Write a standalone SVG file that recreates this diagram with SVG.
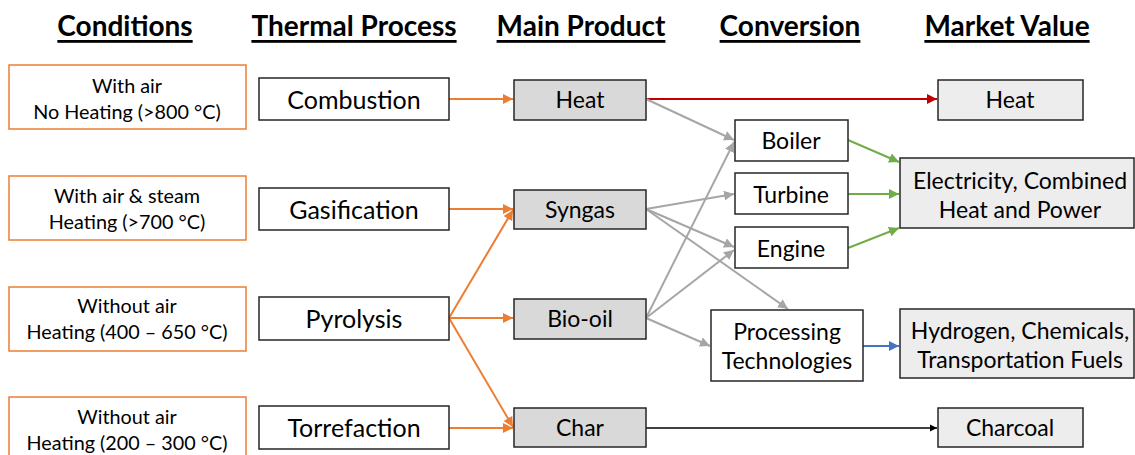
<svg xmlns="http://www.w3.org/2000/svg" width="1135" height="455" viewBox="0 0 1135 455">
<defs>
<style>
text{font-family:Lato,"Open Sans","Liberation Sans",sans-serif;fill:#000;text-anchor:middle;dominant-baseline:central}
.hdr{font-size:28px;font-weight:bold;text-decoration:underline}
.cond{fill:#fff;stroke:#ed7d31;stroke-width:1.5}
.proc{fill:#fff;stroke:#262626;stroke-width:1.5}
.prod{fill:#d9d9d9;stroke:#262626;stroke-width:1.5}
.mkt{fill:#ededed;stroke:#262626;stroke-width:1.5}
.ct{font-size:19.8px}
.pt{font-size:25px}
.mt{font-size:23px}
.or{stroke:#ed7d31;stroke-width:2;fill:none;marker-end:url(#aO)}
.gr{stroke:#a6a6a6;stroke-width:2;fill:none;marker-end:url(#aG)}
.gn{stroke:#70ad47;stroke-width:2;fill:none;marker-end:url(#aGn)}
</style>
<marker id="aO" viewBox="0 0 10 10" refX="10" refY="5" markerWidth="5" markerHeight="5" orient="auto" markerUnits="strokeWidth"><path d="M0,0L10,5L0,10z" fill="#ed7d31"/></marker>
<marker id="aG" viewBox="0 0 10 10" refX="10" refY="5" markerWidth="5" markerHeight="5" orient="auto" markerUnits="strokeWidth"><path d="M0,0L10,5L0,10z" fill="#a6a6a6"/></marker>
<marker id="aGn" viewBox="0 0 10 10" refX="10" refY="5" markerWidth="5" markerHeight="5" orient="auto" markerUnits="strokeWidth"><path d="M0,0L10,5L0,10z" fill="#70ad47"/></marker>
<marker id="aR" viewBox="0 0 10 10" refX="10" refY="5" markerWidth="5" markerHeight="5" orient="auto" markerUnits="strokeWidth"><path d="M0,0L10,5L0,10z" fill="#c00000"/></marker>
<marker id="aB" viewBox="0 0 10 10" refX="10" refY="5" markerWidth="5" markerHeight="5" orient="auto" markerUnits="strokeWidth"><path d="M0,0L10,5L0,10z" fill="#4472c4"/></marker>
<marker id="aK" viewBox="0 0 10 10" refX="10" refY="5" markerWidth="5" markerHeight="5" orient="auto" markerUnits="strokeWidth"><path d="M0,0L10,5L0,10z" fill="#000"/></marker>
</defs>
<rect width="1135" height="455" fill="#fff"/>
<g id="headers">
<text class="hdr" x="125" y="25">Conditions</text>
<text class="hdr" x="354" y="25">Thermal Process</text>
<text class="hdr" x="581" y="25">Main Product</text>
<text class="hdr" x="790" y="25">Conversion</text>
<text class="hdr" x="1007" y="25">Market Value</text>
</g>
<g id="connectors">
<line class="or" x1="449" y1="99" x2="513" y2="99"/>
<line class="or" x1="449" y1="209" x2="513" y2="209"/>
<line class="or" x1="449" y1="318" x2="513" y2="210"/>
<line class="or" x1="449" y1="318" x2="513" y2="318"/>
<line class="or" x1="449" y1="318" x2="513" y2="427"/>
<line class="or" x1="449" y1="428" x2="513" y2="428"/>
<line x1="646" y1="99" x2="937" y2="99" stroke="#c00000" stroke-width="2" marker-end="url(#aR)"/>
<line class="gr" x1="646" y1="99" x2="734" y2="140"/>
<line class="gr" x1="646" y1="209" x2="734" y2="194"/>
<line class="gr" x1="646" y1="209" x2="734" y2="247"/>
<line class="gr" x1="646" y1="209" x2="788" y2="309"/>
<line class="gr" x1="646" y1="318" x2="734" y2="142"/>
<line class="gr" x1="646" y1="318" x2="734" y2="250"/>
<line class="gr" x1="646" y1="318" x2="710" y2="346"/>
<line class="gn" x1="848" y1="140" x2="899" y2="162"/>
<line class="gn" x1="848" y1="194" x2="899" y2="194"/>
<line class="gn" x1="848" y1="248" x2="899" y2="228"/>
<line x1="863" y1="346" x2="899" y2="346" stroke="#4472c4" stroke-width="2" marker-end="url(#aB)"/>
<line x1="646" y1="428" x2="937" y2="428" stroke="#000" stroke-width="1.5" marker-end="url(#aK)"/>
</g>
<g id="cond1"><rect class="cond" x="9" y="65" width="237" height="64"/><text class="ct" x="127" y="85">With air</text><text class="ct" x="127" y="111">No Heating (&gt;800 °C)</text></g>
<g id="cond2"><rect class="cond" x="9" y="176" width="237" height="64"/><text class="ct" x="127" y="195">With air &amp; steam</text><text class="ct" x="127" y="221">Heating (&gt;700 °C)</text></g>
<g id="cond3"><rect class="cond" x="9" y="287" width="237" height="64"/><text class="ct" x="127" y="305">Without air</text><text class="ct" x="127" y="331">Heating (400 – 650 °C)</text></g>
<g id="cond4"><rect class="cond" x="9" y="397" width="237" height="64"/><text class="ct" x="127" y="416">Without air</text><text class="ct" x="127" y="442">Heating (200 – 300 °C)</text></g>
<g id="combustion"><rect class="proc" x="259" y="78" width="190" height="42"/><text class="pt" x="354" y="99">Combustion</text></g>
<g id="gasification"><rect class="proc" x="259" y="188" width="190" height="42"/><text class="pt" x="354" y="209">Gasification</text></g>
<g id="pyrolysis"><rect class="proc" x="259" y="297" width="190" height="43"/><text class="pt" x="354" y="318">Pyrolysis</text></g>
<g id="torrefaction"><rect class="proc" x="259" y="406" width="190" height="43"/><text class="pt" x="354" y="427">Torrefaction</text></g>
<g id="heat"><rect class="prod" x="514" y="80" width="132" height="40"/><text class="mt" x="580" y="99">Heat</text></g>
<g id="syngas"><rect class="prod" x="514" y="190" width="132" height="39"/><text class="mt" x="580" y="209">Syngas</text></g>
<g id="biooil"><rect class="prod" x="514" y="299" width="132" height="40"/><text class="mt" x="580" y="318">Bio-oil</text></g>
<g id="char"><rect class="prod" x="514" y="408" width="132" height="39"/><text class="mt" x="580" y="427">Char</text></g>
<g id="boiler"><rect class="proc" x="735" y="120" width="113" height="41"/><text class="mt" x="791" y="140">Boiler</text></g>
<g id="turbine"><rect class="proc" x="735" y="173" width="113" height="41"/><text class="mt" x="791" y="194">Turbine</text></g>
<g id="engine"><rect class="proc" x="735" y="227" width="113" height="41"/><text class="mt" x="791" y="248">Engine</text></g>
<g id="processing"><rect class="proc" x="711" y="310" width="152" height="71"/><text class="mt" x="787" y="331">Processing</text><text class="mt" x="787" y="360">Technologies</text></g>
<g id="mheat"><rect class="mkt" x="938" y="80" width="145" height="40"/><text class="mt" x="1010" y="99">Heat</text></g>
<g id="electricity"><rect class="mkt" x="900" y="158" width="234" height="70"/><text class="mt" x="1020" y="180">Electricity, Combined</text><text class="mt" x="1020" y="209">Heat and Power</text></g>
<g id="hydrogen"><rect class="mkt" x="900" y="309" width="234" height="69"/><text class="mt" x="1020" y="330">Hydrogen, Chemicals,</text><text class="mt" x="1020" y="359">Transportation Fuels</text></g>
<g id="charcoal"><rect class="mkt" x="938" y="408" width="145" height="39"/><text class="mt" x="1010" y="427">Charcoal</text></g>
</svg>
